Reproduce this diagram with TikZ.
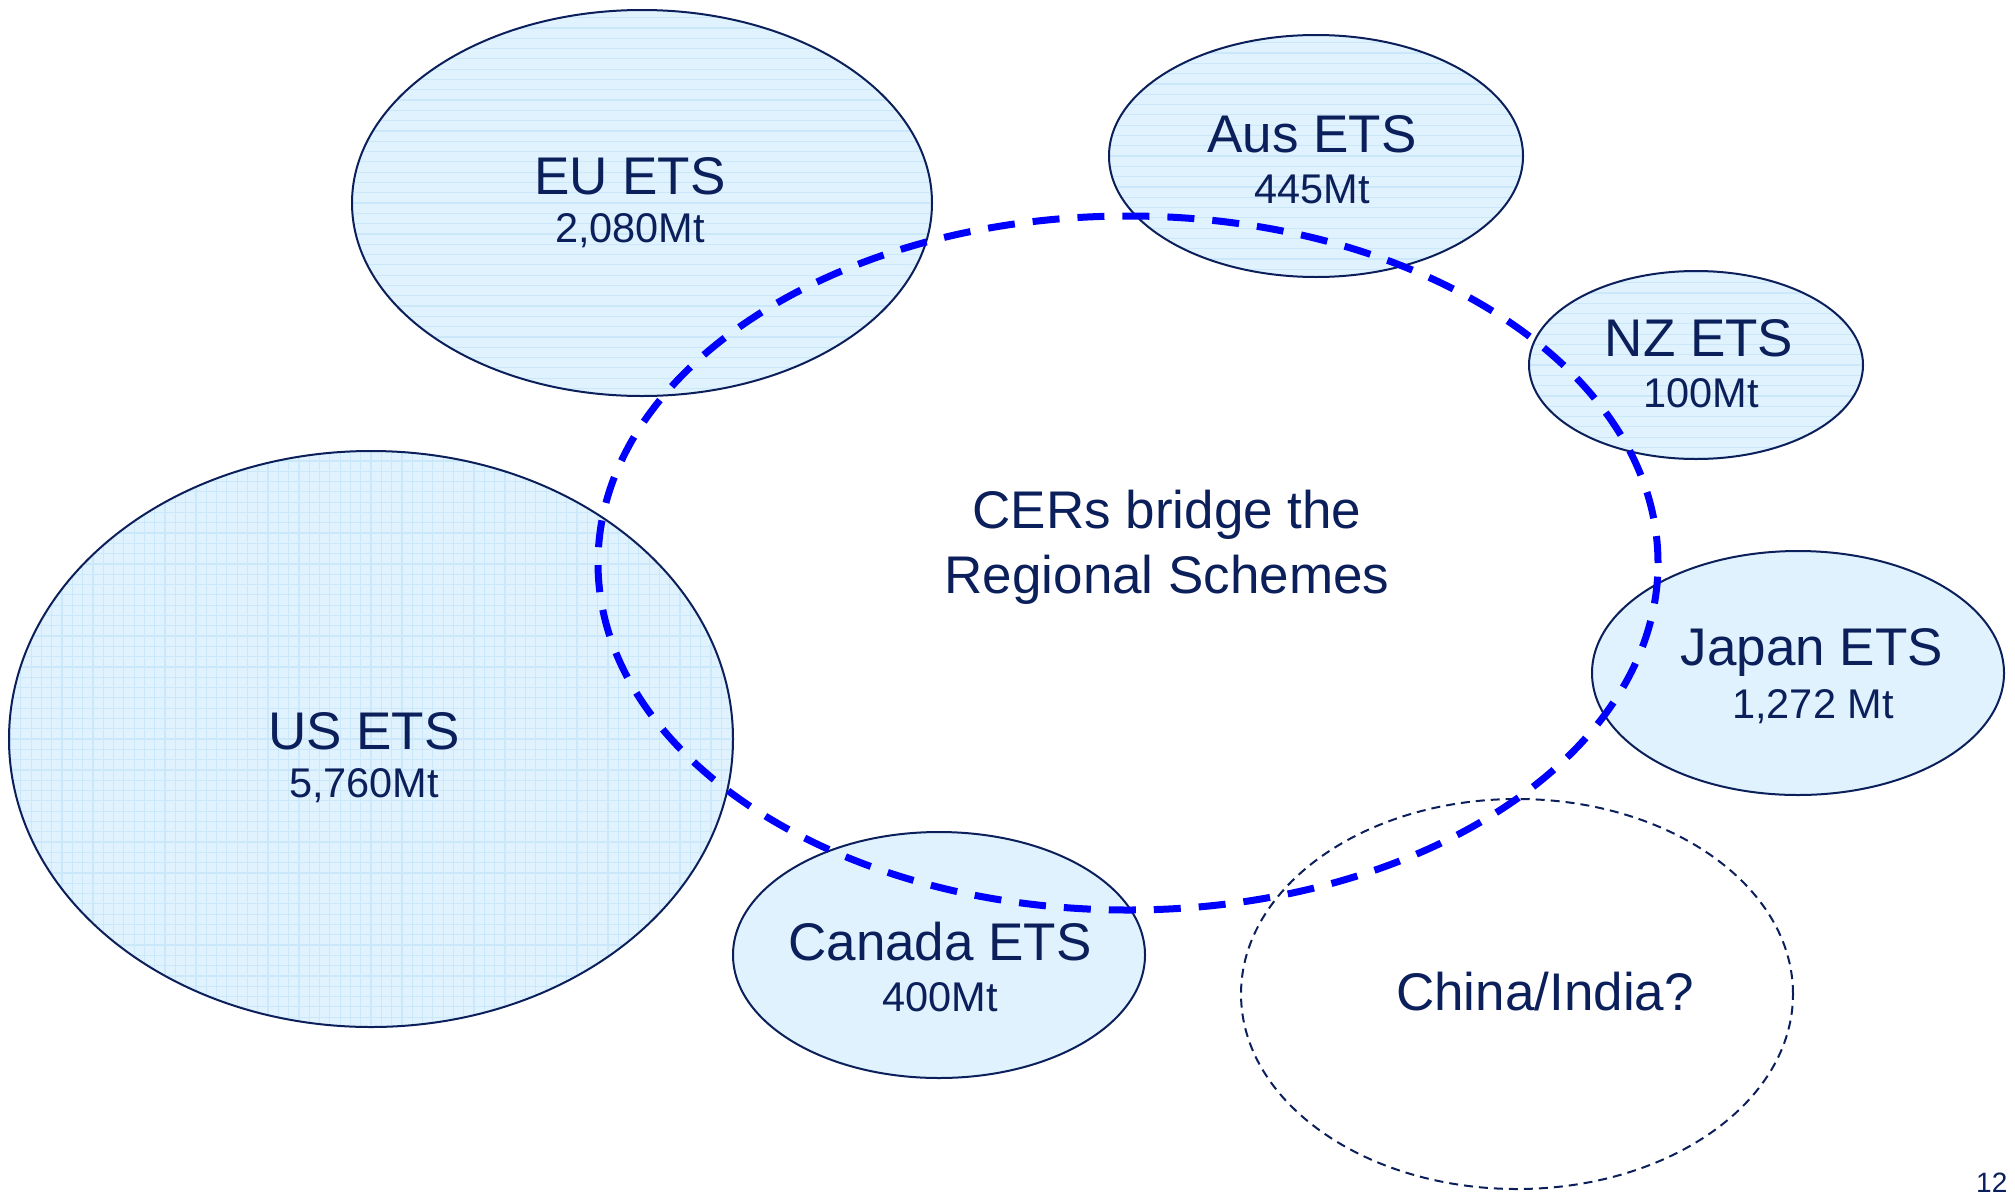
\documentclass[tikz,border=0pt]{standalone}
\usepackage{fontspec}
\setmainfont{Liberation Sans}
\usetikzlibrary{shapes.geometric}
\definecolor{navy}{HTML}{0B1F5B}
\definecolor{bubble}{HTML}{E0F2FD}
\definecolor{gridc}{HTML}{CBE7FA}
\tikzset{
  bub/.style={ellipse, draw=navy, line width=2pt, fill=bubble, inner sep=0pt},
  hlines/.style={path picture={\foreach \k in {-40,...,40}{\draw[gridc,line width=1.2pt] ([yshift=\k*10.3pt]path picture bounding box.center) ++(-500pt,0pt) -- ++(1000pt,0pt);}}},
  glines/.style={path picture={\foreach \k in {-40,...,40}{\draw[gridc,line width=1.2pt] ([yshift=\k*10.3pt]path picture bounding box.center) ++(-500pt,0pt) -- ++(1000pt,0pt); \draw[gridc,line width=1.2pt] ([xshift=\k*10.3pt]path picture bounding box.center) ++(0pt,-500pt) -- ++(0pt,1000pt);}}},
  ttl/.style={text=navy, font=\fontsize{53}{62}\selectfont, inner sep=0pt},
  sub/.style={text=navy, font=\fontsize{41.5}{50}\selectfont, inner sep=0pt},
}
\begin{document}
\begin{tikzpicture}[x=1pt,y=-1pt]
\useasboundingbox (0,0) rectangle (2015,1194);
% regional schemes
\node[bub, hlines, minimum width=580pt, minimum height=386pt] (eu) at (642,203) {};
\node[bub, hlines, minimum width=414pt, minimum height=242pt] (aus) at (1316,156) {};
\node[bub, hlines, minimum width=334pt, minimum height=188pt] (nz) at (1696,365) {};
\node[bub, minimum width=412pt, minimum height=244pt] (jp) at (1798,673) {};
\node[bub, glines, minimum width=724pt, minimum height=576pt] (us) at (371,739) {};
\node[bub, minimum width=412pt, minimum height=246pt] (ca) at (939,955) {};
\node[ellipse, draw=navy, line width=2pt, dash pattern=on 9pt off 6pt, minimum width=552pt, minimum height=390pt, inner sep=0pt] (cn) at (1517,994) {};
% CER bridge
\node[ellipse, draw=blue, line width=7pt, dash pattern=on 27pt off 18pt, minimum width=1060pt, minimum height=694pt, inner sep=0pt] (cer) at (1128,563) {};
% labels
\node[ttl] (eut) at (630,176) {EU ETS};
\node[sub] (eus) at (630,231) {2,080Mt};
\node[ttl] (aust) at (1312,134) {Aus ETS};
\node[sub] (auss) at (1312,189) {445Mt};
\node[ttl] (nzt) at (1699,338) {NZ ETS};
\node[sub] (nzs) at (1701,393) {100Mt};
\node[ttl] (jpt) at (1812,652) {Japan ETS};
\node[sub] (jps) at (1813,707) {1,272 Mt};
\node[ttl] (ust) at (364,731) {US ETS};
\node[sub] (uss) at (364,786) {5,760Mt};
\node[ttl] (cat) at (940,942) {Canada ETS};
\node[sub] (cas) at (940,997) {400Mt};
\node[ttl] (cnt) at (1545,992) {China/India?};
\node[ttl] (cer1) at (1167,515) {CERs bridge the};
\node[ttl] (cer2) at (1167,580) {Regional Schemes};
\node[text=navy, font=\fontsize{28}{32}\selectfont, inner sep=0pt, anchor=base west] (pg) at (1976,1192) {12};
\end{tikzpicture}
\end{document}
